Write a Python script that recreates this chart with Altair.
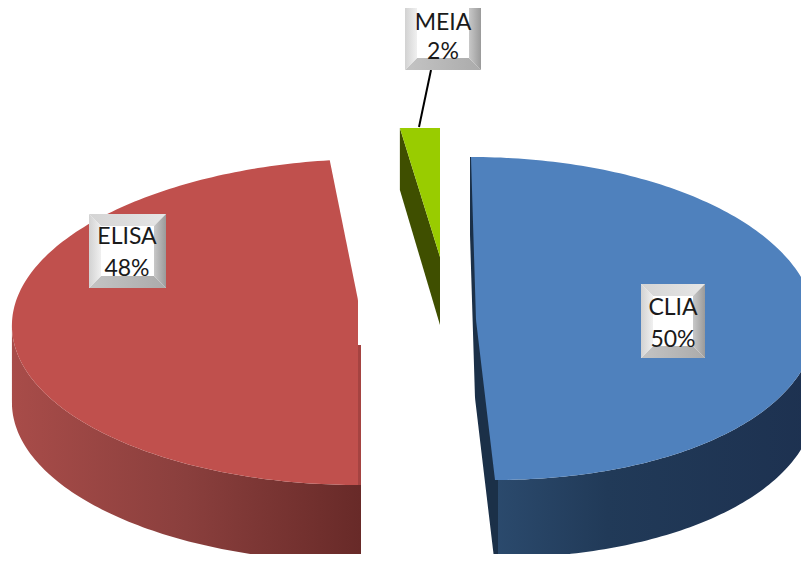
import numpy as np
import pandas as pd
import altair as alt

# ---- data ----
labels = ["CLIA", "ELISA", "MEIA"]
shares = [50, 48, 2]

# ---- layout (page pixels) ----
W, H = 793, 546
xs = alt.Scale(domain=[8, 801], range=[0, W], nice=False, zero=False)
ys = alt.Scale(domain=[8, 554], range=[0, H], nice=False, zero=False)
X = alt.X("x:Q", scale=xs, axis=None)
Y = alt.Y("y:Q", scale=ys, axis=None)
X2 = alt.X2("x2:Q")
Y2 = alt.Y2("y2:Q")


def grad(stops):
    return alt.Gradient(
        gradient="linear", x1=0, x2=1, y1=0, y2=0,
        stops=[alt.GradientStop(offset=o, color=c) for o, c in stops],
    )


def harea(df, fill):
    return alt.Chart(df).mark_area(orient="horizontal", color=fill, clip=True, opacity=1).encode(y=Y, x=X, x2=X2)


def varea(df, fill):
    return alt.Chart(df).mark_area(orient="vertical", color=fill, clip=True, opacity=1).encode(x=X, y=Y, y2=Y2)


def rim(theta, cx, cy, a, b, shear):
    t = np.radians(theta)
    u, v = np.sin(t), -np.cos(t)
    return cx + a * u + shear(v), cy + b * v


ends = np.cumsum([0] + shares) * 3.6
layers = []

# CLIA ------------------------------------------------------------------
shear_c = lambda v: 12 * v + 9 * v * v
cp = (474, 318.5, 341, 161.5, shear_c)
depth = 78
t = np.linspace(ends[0], ends[1], 181)
cx_, cy_ = rim(t, *cp)
(c_x0, c_y0), (c_x1, c_y1) = rim(ends[0], *cp), rim(ends[1], *cp)
c_ey, c_ex = [c_y0, 320, c_y1], [c_x0, 476, c_x1]
ce = lambda y: np.interp(y, c_ey, c_ex)

w = t >= 90
layers.append(varea(pd.DataFrame({"x": cx_[w], "y": cy_[w], "y2": cy_[w] + depth}),
                    grad([(0, "#2B4A6D"), (0.35, "#213A58"), (1, "#1D3150")])))
sy = np.linspace(c_y0, c_y1 + depth, 120)
layers.append(harea(pd.DataFrame({"y": sy, "x": ce(sy - depth) - 1, "x2": ce(sy) + 3}), "#1B3048"))
layers.append(harea(pd.DataFrame({"y": cy_, "x": ce(cy_), "x2": cx_}), "#4F81BD"))

# ELISA -----------------------------------------------------------------
shear_e = lambda v: 7.65 * (-v) + 7.65 * v * v
ep = (358, 322, 346, 163, shear_e)
t = np.linspace(ends[1], ends[2], 173)
ex_, ey_ = rim(t, *ep)
(e_x0, e_y0), (e_x1, e_y1) = rim(ends[1], *ep), rim(ends[2], *ep)
e_ey, e_ex = [e_y1, 300, e_y0], [e_x1, 358, e_x0]
ee = lambda y: np.interp(y, e_ey, e_ex)

w = t <= 270
wx = np.append(ex_[w], [361])
wy = np.append(ey_[w], [ey_[w].max()])
layers.append(varea(pd.DataFrame({"x": wx, "y": wy, "y2": wy + 77}),
                    grad([(0, "#A84C49"), (0.5, "#8A3F3D"), (1, "#682A28")])))
layers.append(harea(pd.DataFrame({"y": [345, 485], "x": [355, 355], "x2": [361, 361]}), "#A54341"))
layers.append(harea(pd.DataFrame({"y": ey_, "x": ex_, "x2": ee(ey_)}), "#C0504D"))

# MEIA ------------------------------------------------------------------
mp = (440, 257, 320, 129, lambda v: 0 * v)
t = np.linspace(ends[2], ends[3], 9)
mx_, my_ = rim(t, *mp)
m_x = np.array([mx_.min(), 440])
m_top = np.array([my_.min(), my_.min()])
m_low = np.array([my_.min(), 257])
layers.append(varea(pd.DataFrame({"x": m_x, "y": m_low, "y2": [190, 325]}), "#3F4F00"))
layers.append(varea(pd.DataFrame({"x": m_x, "y": m_top, "y2": m_low}), "#99CC00"))

# leader ---------------------------------------------------------------
layers.append(alt.Chart(pd.DataFrame({"x": [431], "y": [70], "x2": [419], "y2": [127]}))
              .mark_rule(color="black", strokeWidth=2).encode(x=X, y=Y, x2=X2, y2=Y2))

# label boxes ------------------------------------------------------------
boxes = {"CLIA": (641, 705, 284, 358, 673, 308, 340),
         "ELISA": (89, 166, 214, 288, 127, 237, 269),
         "MEIA": (405, 481, -4, 70, 443, 23, 52)}
B = 12
for name, share in zip(labels, shares):
    l, r, tp, bt, tx, t1, t2 = boxes[name]
    layers.append(alt.Chart(pd.DataFrame({"x": [l], "x2": [r], "y": [tp], "y2": [bt]}))
                  .mark_rect(color="white", clip=True).encode(x=X, x2=X2, y=Y, y2=Y2))
    layers.append(varea(pd.DataFrame({"x": [l, l + B, r - B, r], "y": [tp] * 4,
                                      "y2": [tp, tp + B, tp + B, tp]}),
                        grad([(0, "#D4D4D4"), (1, "#E6E6E6")])))
    layers.append(varea(pd.DataFrame({"x": [l, l + B, r - B, r], "y": [bt, bt - B, bt - B, bt],
                                      "y2": [bt] * 4}),
                        grad([(0, "#C4C4C4"), (1, "#ABABAB")])))
    layers.append(harea(pd.DataFrame({"y": [tp, tp + B, bt - B, bt], "x": [l] * 4,
                                      "x2": [l, l + B, l + B, l]}),
                        grad([(0, "#D2D2D2"), (1, "#F0F0F0")])))
    layers.append(harea(pd.DataFrame({"y": [tp, tp + B, bt - B, bt], "x": [r, r - B, r - B, r],
                                      "x2": [r] * 4}),
                        grad([(0, "#C8C8C8"), (1, "#9A9A9A")])))
    txt = pd.DataFrame({"x": [tx, tx], "y": [t1, t2], "t": [name, f"{share}%"]})
    layers.append(alt.Chart(txt).mark_text(font="Lato", fontSize=23, color="#1A1A1A", baseline="middle",
                                           align="center").encode(x=X, y=Y, text="t:N"))

chart = alt.layer(*layers).properties(
    width=W, height=H, padding=0,
    autosize=alt.AutoSizeParams(type="none"),
).configure_view(stroke=None)

chart.save("out.html", embed_options={"renderer": "svg", "actions": False})
